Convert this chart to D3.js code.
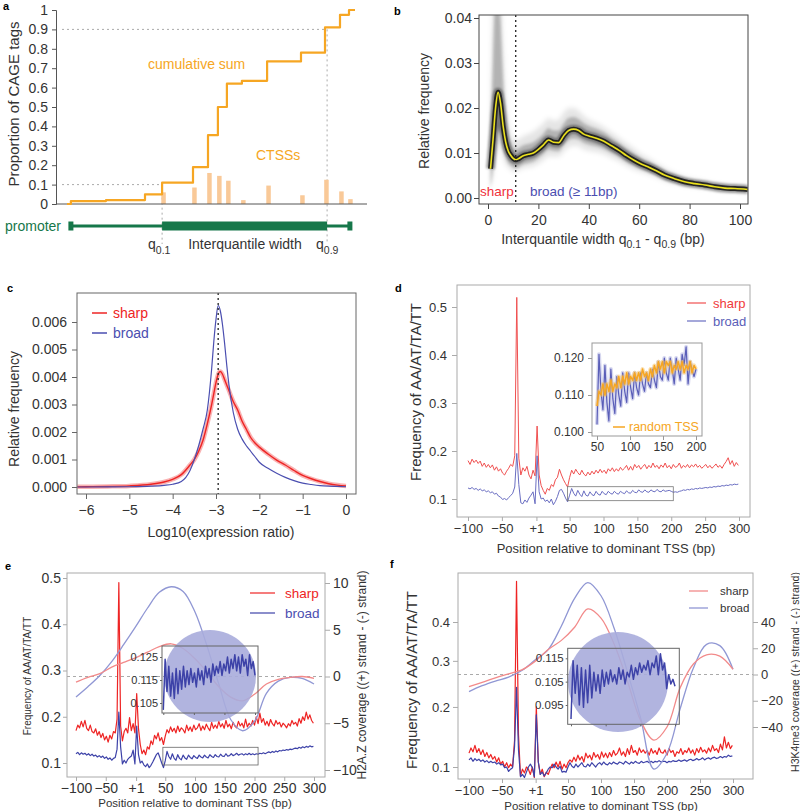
<!DOCTYPE html>
<html><head><meta charset="utf-8">
<script src="https://cdn.jsdelivr.net/npm/d3@7"></script>
<style>
body{margin:0;background:#fff;}
text{font-family:"Liberation Sans",Arial,Helvetica,sans-serif;}
</style></head><body>
<svg id="fig" width="800" height="811" xmlns="http://www.w3.org/2000/svg"></svg>
<script>
// ================= DATA =================
// Panel a
const aStepPos = [5, 6.3, 18, 31, 36.7, 47, 52, 55.3, 58.3, 63.3, 71.7, 83, 91, 96, 99, 101];
const aCumSum  = [0, 0.015, 0.02, 0.05, 0.11, 0.19, 0.355, 0.50, 0.62, 0.635, 0.735, 0.78, 0.91, 0.975, 1.0, 1.0];
const aCtssPos = [36.7, 47, 52, 55.3, 58.3, 63.3, 71.7, 83, 91, 96, 99];
const aCtssVal = [0.06, 0.085, 0.16, 0.145, 0.12, 0.02, 0.095, 0.045, 0.125, 0.065, 0.025];
const aYTicks  = [0,0.1,0.2,0.3,0.4,0.5,0.6,0.7,0.8,0.9,1];
const aYLabels = ["0","0.1","0.2","0.3","0.4","0.5","0.6","0.7","0.8","0.9","1"];
const aPromStart = 6.3, aPromEnd = 99.3, aQ01 = 36.7, aQ09 = 91.7;

// Panel b
const bWidth = [1,2,3,4,5,6,7,8,9,10,11,12,14,16,18,20,22,24,26,28,30,32,34,36,38,40,43,46,49,52,55,58,61,64,67,70,74,78,82,86,90,94,98,103];
const bMean  = [0.0065,0.013,0.020,0.0235,0.021,0.016,0.0125,0.0105,0.0095,0.0088,0.0085,0.0087,0.0094,0.0097,0.0100,0.0108,0.0118,0.0129,0.0124,0.0123,0.0138,0.0150,0.0153,0.0150,0.0142,0.0138,0.0133,0.0126,0.0116,0.0106,0.0094,0.0084,0.0075,0.0068,0.0060,0.0051,0.0043,0.0036,0.0032,0.0029,0.0025,0.0022,0.0021,0.0019];
const bLow   = [0.002,0.006,0.011,0.015,0.014,0.011,0.009,0.0078,0.0072,0.0068,0.0066,0.0068,0.0075,0.0078,0.0081,0.0089,0.0098,0.0108,0.0105,0.0104,0.0118,0.0129,0.0132,0.0130,0.0123,0.0119,0.0115,0.0109,0.0100,0.0091,0.0080,0.0071,0.0064,0.0058,0.0051,0.0043,0.0036,0.0030,0.0027,0.0024,0.0021,0.0018,0.0017,0.0015];
const bHigh  = [0.012,0.032,0.046,0.046,0.040,0.027,0.018,0.0140,0.0122,0.0112,0.0108,0.0110,0.0117,0.0120,0.0124,0.0132,0.0143,0.0155,0.0150,0.0150,0.0165,0.0178,0.0180,0.0175,0.0166,0.0160,0.0154,0.0146,0.0134,0.0123,0.0110,0.0099,0.0088,0.0080,0.0071,0.0060,0.0051,0.0043,0.0038,0.0034,0.0029,0.0026,0.0025,0.0023];
const bOuterLow  = [0.002,0.005,0.009,0.012,0.011,0.009,0.0075,0.0068,0.0063,0.0059,0.0058,0.0060,0.0066,0.0068,0.0070,0.0076,0.0084,0.0093,0.0092,0.0092,0.0103,0.0113,0.0116,0.0115,0.0108,0.0105,0.0102,0.0097,0.0089,0.0081,0.0071,0.0063,0.0057,0.0051,0.0045,0.0038,0.0032,0.0027,0.0024,0.0022,0.0019,0.0016,0.0015,0.0013];
const bOuterHigh = [0.013,0.045,0.046,0.046,0.046,0.034,0.022,0.017,0.0145,0.0133,0.0128,0.0130,0.0138,0.0142,0.0148,0.0156,0.0166,0.0178,0.0172,0.0174,0.0190,0.0200,0.0200,0.0194,0.0183,0.0175,0.0167,0.0158,0.0146,0.0134,0.0122,0.0110,0.0097,0.0088,0.0078,0.0067,0.0056,0.0047,0.0042,0.0037,0.0032,0.0029,0.0027,0.0025];
const bXTicks = [0,20,40,60,80,100];
const bXLabels = ["0","20","40","60","80","100"];
const bYTicks = [0,0.01,0.02,0.03,0.04];
const bYLabels = ["0.00","0.01","0.02","0.03","0.04"];
const bCutoff = 11;

// Panel c
const cLogRatio = [-6.2,-6,-5.5,-5,-4.5,-4.2,-4,-3.8,-3.6,-3.5,-3.4,-3.3,-3.2,-3.1,-3.05,-3,-2.95,-2.9,-2.85,-2.8,-2.75,-2.7,-2.6,-2.5,-2.4,-2.3,-2.2,-2.1,-2,-1.8,-1.6,-1.4,-1.2,-1,-0.8,-0.6,-0.4,-0.2,0];
const cBroad = [0,0,0.000005,0.00001,0.00003,0.00006,0.0001,0.0002,0.0006,0.001,0.0015,0.0021,0.0028,0.0043,0.0053,0.0061,0.0066,0.0064,0.0059,0.0052,0.0044,0.0037,0.0027,0.0021,0.00175,0.0015,0.0013,0.0011,0.0009,0.00068,0.0005,0.00035,0.00023,0.00014,0.00009,0.00005,0.00003,0.00002,0.00001];
const cSharp = [0.000005,0.00001,0.00002,0.00004,0.0001,0.00018,0.00028,0.00045,0.0008,0.001,0.0013,0.0017,0.0023,0.003,0.0034,0.0038,0.0041,0.0042,0.0041,0.0039,0.0037,0.0035,0.0031,0.0028,0.0024,0.0021,0.0018,0.0016,0.00145,0.0012,0.00098,0.0008,0.0006,0.00042,0.0003,0.0002,0.00012,0.00007,0.00004];
const cXTicks = [-6,-5,-4,-3,-2,-1,0];
const cXLabels = ["\u22126","\u22125","\u22124","\u22123","\u22122","\u22121","0"];
const cYTicks = [0,0.001,0.002,0.003,0.004,0.005,0.006];
const cYLabels = ["0.000","0.001","0.002","0.003","0.004","0.005","0.006"];
const cMode = -2.95;

// Panels d/e/f: positions -100, -97, ... 299 (3 bp grid); insets 50, 53, ... 200
const posStart = -100, posStep = 3;
const insStart = 50, insStep = 3;
const posTicks = [-100,-50,1,50,100,150,200,250,300];
const posLabels = ["\u2212100","\u221250","+1","50","100","150","200","250","300"];

const dSharp = [
.180,.172,.183,.176,.181,.174,.179,.168,.175,.166,
.172,.165,.171,.160,.167,.158,.163,.154,.150,.158,
.164,.172,.168,.190,.520,.185,.150,.165,.158,.168,
.150,.142,.160,.148,.252,.150,.128,.118,.110,.122,
.118,.130,.126,.140,.145,.162,.150,.140,.132,.125,
.145,.160,.152,.162,.155,.150,.160,.152,.148,.156,
.150,.158,.152,.160,.154,.162,.155,.160,.153,.163,
.158,.165,.157,.163,.158,.166,.160,.164,.170,.160,
.168,.160,.172,.165,.170,.162,.168,.172,.163,.170,
.165,.175,.166,.170,.163,.171,.166,.175,.165,.170,
.163,.172,.166,.168,.175,.164,.170,.166,.172,.165,
.171,.167,.173,.166,.170,.164,.168,.172,.165,.170,
.164,.168,.173,.166,.170,.164,.172,.178,.186,.172,
.180,.168,.176,.170];
const dBroad = [
.123,.121,.124,.120,.122,.118,.121,.117,.119,.115,
.117,.113,.115,.110,.112,.106,.104,.099,.101,.098,
.103,.107,.112,.125,.195,.130,.092,.090,.098,.093,
.102,.108,.115,.090,.190,.115,.100,.102,.095,.098,
.092,.100,.088,.095,.105,.118,.120,.112,.102,.094,
.108,.122,.112,.106,.118,.110,.105,.117,.108,.106,
.115,.109,.107,.116,.110,.108,.116,.111,.109,.116,
.112,.110,.116,.112,.110,.116,.113,.111,.117,.113,
.112,.118,.114,.113,.119,.115,.114,.119,.115,.114,
.119,.116,.115,.120,.116,.115,.119,.116,.117,.118,
.116,.114,.115,.114,.116,.117,.119,.118,.120,.119,
.121,.120,.122,.121,.123,.122,.123,.124,.123,.125,
.124,.126,.125,.127,.126,.128,.127,.129,.128,.130,
.129,.131,.130,.131];
const dInsetBroad = [
.102,.121,.111,.106,.118,.108,.103,.117,.109,.105,
.115,.110,.107,.116,.111,.108,.116,.112,.109,.116,
.112,.110,.116,.113,.111,.116,.113,.112,.117,.114,
.112,.119,.115,.114,.120,.116,.114,.120,.117,.113,
.120,.117,.114,.121,.118,.123,.113,.119,.117,.115,
.117];
const dInsetRandom = [
.107,.111,.110,.113,.110,.113,.111,.114,.111,.113,
.112,.115,.112,.115,.113,.116,.113,.115,.114,.116,
.114,.116,.114,.117,.115,.116,.114,.117,.115,.118,
.116,.119,.117,.119,.116,.119,.118,.119,.116,.118,
.117,.119,.117,.119,.116,.118,.117,.119,.116,.118,
.117];
const dYTicks = [0.1,0.2,0.3,0.4,0.5];
const dYLabels = ["0.1","0.2","0.3","0.4","0.5"];
const dInYTicks = [0.100,0.110,0.120];
const dInYLabels = ["0.100","0.110","0.120"];
const inXTicks = [50,100,150,200];
const inXLabels = ["50","100","150","200"];

const eSharp = [
.170,.182,.176,.190,.178,.192,.175,.170,.182,.168,
.165,.174,.160,.168,.155,.164,.150,.158,.145,.160,
.152,.168,.165,.195,.490,.180,.148,.168,.175,.165,
.198,.170,.185,.165,.250,.175,.140,.120,.128,.118,
.135,.130,.148,.140,.160,.152,.165,.148,.155,.140,
.158,.172,.165,.178,.168,.175,.165,.180,.168,.176,
.172,.165,.182,.170,.178,.168,.182,.172,.176,.185,
.170,.180,.172,.184,.176,.170,.188,.175,.182,.175,
.190,.178,.185,.175,.192,.178,.184,.174,.188,.180,
.176,.190,.180,.186,.176,.195,.178,.186,.180,.192,
.182,.200,.185,.208,.188,.196,.182,.190,.180,.194,
.185,.180,.192,.184,.188,.178,.186,.182,.176,.185,
.180,.192,.184,.188,.180,.196,.186,.200,.192,.210,
.195,.204,.192,.186];
const eBroad = [
.120,.123,.118,.122,.119,.121,.117,.120,.116,.119,
.115,.117,.113,.116,.112,.115,.110,.113,.108,.111,
.106,.110,.112,.130,.210,.135,.098,.106,.100,.108,
.112,.115,.128,.098,.180,.118,.100,.104,.096,.092,
.098,.090,.095,.102,.110,.118,.122,.112,.100,.090,
.105,.125,.114,.108,.120,.110,.106,.118,.110,.107,
.117,.111,.108,.117,.112,.109,.116,.112,.110,.117,
.113,.111,.117,.113,.111,.118,.114,.112,.118,.114,
.113,.119,.115,.114,.120,.115,.116,.120,.116,.118,
.121,.117,.119,.120,.117,.120,.118,.121,.118,.120,
.118,.120,.119,.121,.120,.122,.120,.122,.124,.122,
.125,.123,.126,.124,.127,.126,.128,.127,.129,.128,
.130,.129,.131,.132,.131,.134,.132,.135,.133,.136,
.134,.137,.135,.136];
const eInsetBroad = [
.102,.124,.110,.121,.108,.118,.107,.120,.109,.119,
.111,.121,.112,.119,.113,.120,.114,.118,.112,.120,
.115,.119,.113,.121,.116,.120,.114,.122,.117,.121,
.118,.123,.117,.122,.119,.125,.118,.124,.120,.126,
.119,.125,.118,.126,.121,.124,.117,.126,.120,.123,
.117];
const smoothPos = [-100,-80,-60,-40,-20,0,20,40,60,80,100,120,140,160,180,200,220,240,260,280,300];
const eH2AZBroad = [-2.2,-1.1,0.1,1.6,3.4,5.3,7.3,9.0,9.6,9.1,6.9,3.3,-0.8,-4.6,-5.8,-4.8,-1.8,-0.5,-0.1,-0.2,-0.8];
const eH2AZSharp = [-0.6,-0.1,0.3,1.0,1.5,2.0,2.6,3.2,3.5,3.0,1.9,0.5,-1.1,-2.2,-2.6,-1.9,-0.8,-0.3,-0.1,0.0,-0.2];
const eYTicks = [0.1,0.2,0.3,0.4,0.5];
const eYLabels = ["0.1","0.2","0.3","0.4","0.5"];
const eRTicks = [-10,-5,0,5,10];
const eRLabels = ["\u221210","\u22125","0","5","10"];
const eInYTicks = [0.105,0.115,0.125];
const eInYLabels = ["0.105","0.115","0.125"];

const fSharp = [
.120,.128,.122,.132,.121,.127,.118,.125,.115,.121,
.113,.118,.111,.115,.107,.113,.104,.108,.100,.106,
.099,.104,.100,.140,.520,.150,.088,.097,.092,.100,
.097,.090,.100,.086,.200,.107,.090,.097,.087,.093,
.090,.097,.104,.099,.107,.100,.108,.097,.104,.099,
.106,.110,.107,.114,.108,.117,.110,.115,.107,.120,
.113,.117,.110,.121,.114,.118,.111,.122,.114,.120,
.113,.121,.115,.124,.117,.120,.128,.117,.122,.115,
.127,.118,.132,.121,.124,.117,.128,.121,.125,.120,
.124,.117,.127,.120,.124,.118,.128,.121,.120,.125,
.117,.127,.121,.124,.115,.122,.120,.127,.118,.124,
.121,.128,.120,.125,.117,.127,.121,.129,.122,.125,
.120,.128,.122,.132,.124,.127,.121,.134,.125,.146,
.128,.137,.127,.132];
const fBroad = [
.110,.113,.108,.112,.109,.111,.108,.110,.107,.109,
.106,.108,.106,.107,.104,.106,.103,.104,.099,.100,
.094,.097,.099,.130,.240,.125,.087,.090,.086,.093,
.100,.104,.099,.087,.185,.107,.090,.093,.088,.092,
.097,.100,.099,.104,.100,.097,.101,.093,.094,.093,
.100,.106,.101,.099,.104,.100,.103,.106,.101,.100,
.104,.101,.106,.103,.100,.104,.106,.103,.107,.104,
.103,.106,.104,.107,.105,.104,.107,.106,.104,.108,
.106,.104,.107,.105,.108,.106,.105,.108,.106,.107,
.108,.106,.108,.106,.108,.107,.109,.107,.108,.108,
.106,.108,.107,.109,.108,.108,.110,.108,.109,.110,
.108,.110,.111,.109,.110,.112,.110,.111,.113,.110,
.112,.113,.111,.113,.114,.112,.113,.115,.113,.115,
.114,.117,.115,.116];
const fInsetBroad = [
.089,.114,.100,.112,.095,.111,.094,.110,.096,.112,
.098,.109,.101,.108,.100,.110,.103,.109,.104,.110,
.105,.108,.104,.111,.106,.110,.104,.109,.107,.112,
.106,.111,.108,.113,.109,.112,.110,.114,.108,.113,
.111,.116,.108,.117,.110,.113,.102,.108,.104,.106,
.103];
const fH3K4Broad = [-13,-8.5,-5,-2,3,11,19,37,58,70,60,35,2,-33,-72,-60,-26,5,23,22,4];
const fH3K4Sharp = [-9.3,-6,-2.5,0.5,3.5,10,19,26,36,50,43,23,-5,-35,-50,-40,-10,8,15,14,4];
const fYTicks = [0.1,0.2,0.3,0.4];
const fYLabels = ["0.1","0.2","0.3","0.4"];
const fRTicks = [-40,-20,0,20,40];
const fRLabels = ["\u221240","\u221220","0","20","40"];
const fInYTicks = [0.095,0.105,0.115];
const fInYLabels = ["0.095","0.105","0.115"];

// ================= DRAWING =================
const svg = d3.select("#fig");
const FONT = '"Liberation Sans", Arial, Helvetica, sans-serif';
const TXT = "#333";
const RED = "#ee2424", BLUE = "#3d42a8";
const ORANGE = "#f6a623", BAR = "#f9c998", GREEN = "#16774a";
const defs = svg.append("defs");
defs.append("filter").attr("id", "blur2").attr("x", "-10%").attr("y", "-10%").attr("width", "120%").attr("height", "120%")
  .append("feGaussianBlur").attr("stdDeviation", 1.8);
defs.append("filter").attr("id", "blur3").attr("x", "-10%").attr("y", "-10%").attr("width", "120%").attr("height", "120%")
  .append("feGaussianBlur").attr("stdDeviation", 2.5);
defs.append("filter").attr("id", "blur1").append("feGaussianBlur").attr("stdDeviation", 0.8);

function txt(g, x, y, s, o = {}) {
  const t = g.append("text").attr("x", x).attr("y", y).text(s)
    .attr("font-size", o.fs || 14).attr("fill", o.fill || TXT)
    .attr("text-anchor", o.anchor || "start").attr("font-family", FONT);
  if (o.rot) t.attr("transform", `rotate(${o.rot},${x},${y})`);
  if (o.bold) t.attr("font-weight", "bold");
  return t;
}
function vtitle(g, cx, cy, s, fs) { return txt(g, cx + fs * 0.36, cy, s, {fs, anchor: "middle", rot: -90}); }
function axis(g, gen, scale, tv, labels, tr, o = {}) {
  const a = gen(scale).tickValues(tv).tickFormat((d, i) => labels[i])
    .tickSizeOuter(0).tickSize(o.ts ?? 5).tickPadding(o.tp ?? 3);
  const s = g.append("g").attr("transform", tr).call(a);
  if (!o.domain) s.select(".domain").remove(); else s.select(".domain").attr("stroke", o.col || "#555");
  s.selectAll(".tick line").attr("stroke", o.col || "#555");
  s.selectAll(".tick text").attr("font-size", o.fs || 13).attr("fill", TXT).attr("font-family", FONT);
  return s;
}
function box(g, x0, y0, x1, y1, col, w = 1) {
  g.append("rect").attr("x", x0).attr("y", y0).attr("width", x1 - x0).attr("height", y1 - y0)
    .attr("fill", "none").attr("stroke", col).attr("stroke-width", w);
}
function clip(id, x0, y0, x1, y1) {
  defs.append("clipPath").attr("id", id).append("rect").attr("x", x0).attr("y", y0).attr("width", x1 - x0).attr("height", y1 - y0);
  return `url(#${id})`;
}
const gridPts = (vals, start, step) => vals.map((v, i) => [start + step * i, v]);
function drawLine(g, pts, sx, sy, col, w, o = {}) {
  const p = g.append("path").datum(pts)
    .attr("d", d3.line().x(d => sx(d[0])).y(d => sy(d[1])).curve(o.curve || d3.curveLinear))
    .attr("fill", "none").attr("stroke", col).attr("stroke-width", w).attr("stroke-linejoin", "round");
  if (o.op != null) p.attr("stroke-opacity", o.op);
  if (o.filter) p.attr("filter", o.filter);
  return p;
}

// ---------- Panel a ----------
(function () {
  const g = svg.append("g");
  const x = d3.scaleLinear().domain([0, 105]).range([52, 367]);
  const y = d3.scaleLinear().domain([0, 1]).range([204, 10]);
  txt(g, 3, 10, "a", {fs: 11, bold: true, fill: "#000"});
  const dash = (x1, y1, x2, y2) => g.append("line").attr("x1", x1).attr("y1", y1).attr("x2", x2).attr("y2", y2)
    .attr("stroke", "#aaa").attr("stroke-dasharray", "2,3").attr("stroke-width", 1);
  dash(62, y(0.9), x(aQ09), y(0.9));
  dash(62, y(0.1), x(aQ01), y(0.1));
  dash(x(aQ01), y(0.11), x(aQ01), 244);
  dash(x(aQ09), y(0.9), x(aQ09), 244);
  g.selectAll("rect.ctss").data(aCtssPos).enter().append("rect")
    .attr("x", d => x(d) - 0.8).attr("width", 4.5)
    .attr("y", (d, i) => y(aCtssVal[i])).attr("height", (d, i) => y(0) - y(aCtssVal[i]))
    .attr("fill", BAR);
  axis(g, d3.axisLeft, y, aYTicks, aYLabels, "translate(56,0)", {ts: 4, tp: 4, fs: 14, domain: true, col: "#555"});
  g.append("line").attr("x1", 56).attr("x2", 367).attr("y1", 204).attr("y2", 204).attr("stroke", "#555");
  drawLine(g, aStepPos.map((p, i) => [p, aCumSum[i]]), x, y, ORANGE, 2.2, {curve: d3.curveStepAfter});
  const py = 226;
  g.append("line").attr("x1", x(aPromStart)).attr("x2", x(aPromEnd)).attr("y1", py).attr("y2", py)
    .attr("stroke", GREEN).attr("stroke-width", 3);
  g.append("rect").attr("x", x(aQ01)).attr("width", x(aQ09) - x(aQ01)).attr("y", py - 4.5).attr("height", 9).attr("fill", GREEN);
  [aPromStart, aPromEnd].forEach(p => g.append("rect").attr("x", x(p) - 2.5).attr("width", 5).attr("y", py - 4.5).attr("height", 9).attr("fill", GREEN));
  txt(g, 5, 231, "promoter", {fs: 14, fill: GREEN});
  txt(g, 245, 249, "Interquantile width", {fs: 14, anchor: "middle"});
  const q1 = txt(g, 148, 249, "q", {fs: 14});
  q1.append("tspan").text("0.1").attr("font-size", 10.5).attr("dy", 5);
  const q9 = txt(g, 316, 249, "q", {fs: 14});
  q9.append("tspan").text("0.9").attr("font-size", 10.5).attr("dy", 5);
  txt(g, 148, 69, "cumulative sum", {fs: 14, fill: ORANGE});
  txt(g, 256, 160, "CTSSs", {fs: 14, fill: ORANGE});
  vtitle(g, 14, 104, "Proportion of CAGE tags", 15);
})();

// ---------- Panel b ----------
(function () {
  const g = svg.append("g");
  const x = d3.scaleLinear().domain([0, 100]).range([488, 740]);
  const y = d3.scaleLinear().domain([0, 0.04]).range([198, 18]);
  const X0 = 479, X1 = 748, Y0 = 15, Y1 = 204;
  txt(g, 394, 15, "b", {fs: 11, bold: true, fill: "#000"});
  const inner = g.append("g").attr("clip-path", clip("clipb", X0, Y0, X1, Y1));
  const pts = bWidth.map((w, i) => [w, bMean[i]]);
  const band = d3.area().x(d => x(d[0])).y0(d => y(d[1])).y1(d => y(d[2])).curve(d3.curveMonotoneX);
  inner.append("path").datum(bWidth.map((w, i) => [w, bOuterLow[i], bOuterHigh[i]]))
    .attr("d", band).attr("fill", "#000").attr("fill-opacity", 0.1).attr("filter", "url(#blur3)");
  inner.append("path").datum(bWidth.map((w, i) => [w, bLow[i], bHigh[i]]))
    .attr("d", band).attr("fill", "#000").attr("fill-opacity", 0.22).attr("filter", "url(#blur2)");
  drawLine(inner, pts, x, y, "#000", 9, {op: 0.35, curve: d3.curveMonotoneX, filter: "url(#blur1)"});
  drawLine(inner, pts, x, y, "#151515", 5, {op: 0.85, curve: d3.curveMonotoneX});
  drawLine(inner, pts, x, y, "#ece21c", 1.6, {curve: d3.curveMonotoneX});
  g.append("line").attr("x1", x(bCutoff)).attr("x2", x(bCutoff)).attr("y1", Y0).attr("y2", Y1)
    .attr("stroke", "#222").attr("stroke-width", 1.3).attr("stroke-dasharray", "2,3");
  box(g, X0, Y0, X1, Y1, "#444");
  axis(g, d3.axisLeft, y, bYTicks, bYLabels, `translate(${X0},0)`, {ts: 5, tp: 2, fs: 14, col: "#444"});
  axis(g, d3.axisBottom, x, bXTicks, bXLabels, `translate(0,${Y1})`, {ts: 5, tp: 6, fs: 14, col: "#444"});
  txt(g, 480, 196, "sharp", {fs: 13.5, fill: "#f0303a"});
  txt(g, 530, 196, "broad (\u2265 11bp)", {fs: 13.5, fill: "#4a4eb0"});
  const t = txt(g, 603, 244, "Interquantile width q", {fs: 14, anchor: "middle"});
  t.append("tspan").text("0.1").attr("font-size", 10.5).attr("dy", 4);
  t.append("tspan").text(" - q").attr("dy", -4);
  t.append("tspan").text("0.9").attr("font-size", 10.5).attr("dy", 4);
  t.append("tspan").text(" (bp)").attr("dy", -4);
  vtitle(g, 424, 111, "Relative frequency", 14);
})();

// ---------- Panel c ----------
(function () {
  const g = svg.append("g");
  const x = d3.scaleLinear().domain([-6, 0]).range([86, 346]);
  const y = d3.scaleLinear().domain([0, 0.006]).range([487, 322]);
  const X0 = 77, X1 = 356, Y0 = 293, Y1 = 494;
  txt(g, 7, 292, "c", {fs: 11, bold: true, fill: "#000"});
  const inner = g.append("g").attr("clip-path", clip("clipc", X0, Y0, X1, Y1));
  drawLine(inner, cLogRatio.map((v, i) => [v, cSharp[i]]), x, y, RED, 4.5, {op: 0.35, curve: d3.curveMonotoneX});
  drawLine(inner, cLogRatio.map((v, i) => [v, cSharp[i]]), x, y, RED, 1.4, {curve: d3.curveMonotoneX});
  drawLine(inner, cLogRatio.map((v, i) => [v, cBroad[i]]), x, y, "#4a4eb0", 1.2, {curve: d3.curveMonotoneX});
  g.append("line").attr("x1", x(cMode)).attr("x2", x(cMode)).attr("y1", Y0).attr("y2", Y1)
    .attr("stroke", "#222").attr("stroke-width", 1.3).attr("stroke-dasharray", "2,3");
  box(g, X0, Y0, X1, Y1, "#666");
  axis(g, d3.axisLeft, y, cYTicks, cYLabels, `translate(${X0},0)`, {ts: 5, tp: 5, fs: 14, col: "#666"});
  axis(g, d3.axisBottom, x, cXTicks, cXLabels, `translate(0,${Y1})`, {ts: 5, tp: 6, fs: 14, col: "#666"});
  g.append("line").attr("x1", 92).attr("x2", 107).attr("y1", 313).attr("y2", 313).attr("stroke", RED).attr("stroke-width", 1.5);
  g.append("line").attr("x1", 92).attr("x2", 107).attr("y1", 333).attr("y2", 333).attr("stroke", "#4a4eb0").attr("stroke-width", 1.5);
  txt(g, 113, 318, "sharp", {fs: 14, fill: RED});
  txt(g, 113, 338, "broad", {fs: 14, fill: "#4a4eb0"});
  txt(g, 221, 537, "Log10(expression ratio)", {fs: 14, anchor: "middle"});
  vtitle(g, 14, 409, "Relative frequency", 14);
})();

// ---------- Panel d ----------
(function () {
  const g = svg.append("g");
  const x = d3.scaleLinear().domain([-100, 300]).range([468, 739]);
  const y = d3.scaleLinear().domain([0.1, 0.5]).range([499, 307]);
  const X0 = 457, X1 = 750, Y0 = 285, Y1 = 517;
  txt(g, 395, 292, "d", {fs: 11, bold: true, fill: "#000"});
  const inner = g.append("g").attr("clip-path", clip("clipd", X0, Y0, X1, Y1));
  drawLine(inner, gridPts(dSharp, posStart, posStep), x, y, "#f05050", 1);
  drawLine(inner, gridPts(dBroad, posStart, posStep), x, y, "#6a6ec2", 1);
  g.append("rect").attr("x", x(47)).attr("width", x(203) - x(47)).attr("y", y(0.1256)).attr("height", y(0.0965) - y(0.1256))
    .attr("fill", "none").attr("stroke", "#777").attr("stroke-width", 0.8);
  box(g, X0, Y0, X1, Y1, "#aaa");
  axis(g, d3.axisLeft, y, dYTicks, dYLabels, `translate(${X0},0)`, {ts: 5, tp: 5, fs: 13, col: "#aaa"});
  axis(g, d3.axisBottom, x, posTicks, posLabels, `translate(0,${Y1})`, {ts: 4, tp: 3, fs: 13, col: "#aaa"});
  g.append("line").attr("x1", 687).attr("x2", 706).attr("y1", 303).attr("y2", 303).attr("stroke", "#f05050").attr("stroke-width", 1.2);
  g.append("line").attr("x1", 687).attr("x2", 706).attr("y1", 321).attr("y2", 321).attr("stroke", "#6a6ec2").attr("stroke-width", 1.2);
  txt(g, 713, 307.5, "sharp", {fs: 13, fill: "#f03a3a"});
  txt(g, 713, 325.5, "broad", {fs: 13, fill: "#5a5eb8"});
  const ix = d3.scaleLinear().domain([50, 200]).range([597, 696]);
  const iy = d3.scaleLinear().domain([0.1, 0.12]).range([432, 358]);
  const IX0 = 592, IX1 = 702, IY0 = 343, IY1 = 436;
  g.append("rect").attr("x", IX0).attr("y", IY0).attr("width", IX1 - IX0).attr("height", IY1 - IY0).attr("fill", "#fff");
  const ig = g.append("g").attr("clip-path", clip("clipdi", IX0, IY0, IX1, IY1));
  drawLine(ig, gridPts(dInsetBroad, insStart, insStep), ix, iy, "#8a8dd0", 4, {op: 0.35});
  drawLine(ig, gridPts(dInsetBroad, insStart, insStep), ix, iy, "#5a5eb8", 1.2);
  drawLine(ig, gridPts(dInsetRandom, insStart, insStep), ix, iy, "#f8c060", 4, {op: 0.5});
  drawLine(ig, gridPts(dInsetRandom, insStart, insStep), ix, iy, ORANGE, 1.5);
  box(g, IX0, IY0, IX1, IY1, "#999");
  axis(g, d3.axisLeft, iy, dInYTicks, dInYLabels, `translate(${IX0},0)`, {ts: 4, tp: 4, fs: 12, col: "#999"});
  axis(g, d3.axisBottom, ix, inXTicks, inXLabels, `translate(0,${IY1})`, {ts: 4, tp: 2, fs: 12, col: "#999"});
  g.append("line").attr("x1", 613).attr("x2", 625).attr("y1", 427).attr("y2", 427).attr("stroke", ORANGE).attr("stroke-width", 1.5);
  txt(g, 629, 431, "random TSS", {fs: 12.5, fill: ORANGE});
  txt(g, 606, 553, "Position relative to dominant TSS (bp)", {fs: 13, anchor: "middle"});
  vtitle(g, 416, 392, "Frequency of AA/AT/TA/TT", 15);
})();

// ---------- Panel e ----------
(function () {
  const g = svg.append("g");
  const x = d3.scaleLinear().domain([-100, 300]).range([76, 314]);
  const y = d3.scaleLinear().domain([0.1, 0.5]).range([763, 578]);
  const yr = d3.scaleLinear().domain([-10, 10]).range([770, 583]);
  const X0 = 67, X1 = 325, Y0 = 573, Y1 = 777;
  txt(g, 5, 570, "e", {fs: 11, bold: true, fill: "#000"});
  g.append("line").attr("x1", X0).attr("x2", X1).attr("y1", yr(0)).attr("y2", yr(0)).attr("stroke", "#aaa").attr("stroke-dasharray", "3,3");
  const inner = g.append("g").attr("clip-path", clip("clipe", X0, Y0, X1, Y1));
  drawLine(inner, gridPts(eSharp, posStart, posStep), x, y, RED, 1.2);
  drawLine(inner, gridPts(eBroad, posStart, posStep), x, y, BLUE, 1.2);
  g.append("rect").attr("x", x(46)).attr("width", x(206) - x(46)).attr("y", y(0.134)).attr("height", y(0.0957) - y(0.134))
    .attr("fill", "none").attr("stroke", "#666").attr("stroke-width", 0.8);
  g.append("circle").attr("cx", 210).attr("cy", 676).attr("r", 46).attr("fill", "#a8acdc").attr("fill-opacity", 0.9);
  drawLine(inner, smoothPos.map((p, i) => [p, eH2AZBroad[i]]), x, yr, "#9097d4", 1.3, {curve: d3.curveCatmullRom});
  drawLine(inner, smoothPos.map((p, i) => [p, eH2AZSharp[i]]), x, yr, "#f28a8a", 1.3, {curve: d3.curveCatmullRom});
  box(g, X0, Y0, X1, Y1, "#aaa");
  axis(g, d3.axisLeft, y, eYTicks, eYLabels, `translate(${X0},0)`, {ts: 4, tp: 2, fs: 14, col: "#aaa"});
  axis(g, d3.axisRight, yr, eRTicks, eRLabels, `translate(${X1},0)`, {ts: 5, tp: 3, fs: 14, col: "#aaa"});
  axis(g, d3.axisBottom, x, posTicks, posLabels, `translate(0,${Y1})`, {ts: 4, tp: 2, fs: 14, col: "#aaa"});
  const ix = d3.scaleLinear().domain([50, 200]).range([163.3, 255]);
  const iy = d3.scaleLinear().domain([0.105, 0.125]).range([703, 657]);
  const IX0 = 162, IX1 = 258, IY0 = 646, IY1 = 713;
  const ig = g.append("g").attr("clip-path", clip("clipei", IX0, IY0, IX1, IY1));
  drawLine(ig, gridPts(eInsetBroad, insStart, insStep), ix, iy, BLUE, 1.5);
  box(g, IX0, IY0, IX1, IY1, "#666");
  axis(g, d3.axisLeft, iy, eInYTicks, eInYLabels, `translate(${IX0},0)`, {ts: 2, tp: 2, fs: 11, col: "#666"});
  axis(g, d3.axisBottom, ix, inXTicks, ["", "", "", ""], `translate(0,${IY1})`, {ts: 2, tp: 2, fs: 11, col: "#666"});
  g.append("line").attr("x1", 250).attr("x2", 275).attr("y1", 593).attr("y2", 593).attr("stroke", RED).attr("stroke-width", 1.2);
  g.append("line").attr("x1", 250).attr("x2", 275).attr("y1", 613).attr("y2", 613).attr("stroke", BLUE).attr("stroke-width", 1.2);
  txt(g, 285, 598, "sharp", {fs: 13.5, fill: RED});
  txt(g, 285, 618, "broad", {fs: 13.5, fill: "#4a4eb0"});
  txt(g, 195, 807, "Position relative to dominant TSS (bp)", {fs: 11.5, anchor: "middle"});
  vtitle(g, 27, 676, "Frequency of AA/AT/TA/TT", 10);
  vtitle(g, 362, 675, "H2A.Z coverage ((+) strand - (-) strand)", 12);
})();

// ---------- Panel f ----------
(function () {
  const g = svg.append("g");
  const x = d3.scaleLinear().domain([-100, 300]).range([469, 733]);
  const y = d3.scaleSqrt().domain([0.1, 0.4]).range([767, 622]);
  const yr = d3.scaleLinear().domain([-40, 40]).range([727, 622]);
  const X0 = 458, X1 = 753, Y0 = 573, Y1 = 779;
  txt(g, 390, 568, "f", {fs: 11, bold: true, fill: "#000"});
  g.append("line").attr("x1", X0).attr("x2", X1).attr("y1", yr(0)).attr("y2", yr(0)).attr("stroke", "#aaa").attr("stroke-dasharray", "3,3");
  const inner = g.append("g").attr("clip-path", clip("clipf", X0, Y0, X1, Y1));
  drawLine(inner, gridPts(fSharp, posStart, posStep), x, y, RED, 1.2);
  drawLine(inner, gridPts(fBroad, posStart, posStep), x, y, BLUE, 1.2);
  g.append("circle").attr("cx", 618).attr("cy", 682).attr("r", 50).attr("fill", "#a8acdc").attr("fill-opacity", 0.9);
  drawLine(inner, smoothPos.map((p, i) => [p, fH3K4Broad[i]]), x, yr, "#9097d4", 1.3, {curve: d3.curveCatmullRom});
  drawLine(inner, smoothPos.map((p, i) => [p, fH3K4Sharp[i]]), x, yr, "#f28a8a", 1.3, {curve: d3.curveCatmullRom});
  box(g, X0, Y0, X1, Y1, "#aaa");
  axis(g, d3.axisLeft, y, fYTicks, fYLabels, `translate(${X0},0)`, {ts: 5, tp: 3, fs: 13, col: "#aaa"});
  axis(g, d3.axisRight, yr, fRTicks, fRLabels, `translate(${X1},0)`, {ts: 5, tp: 3, fs: 13, col: "#aaa"});
  axis(g, d3.axisBottom, x, posTicks, posLabels, `translate(0,${Y1})`, {ts: 4, tp: 3, fs: 13, col: "#aaa"});
  const ix = d3.scaleLinear().domain([50, 200]).range([571, 675]);
  const iy = d3.scaleLinear().domain([0.095, 0.115]).range([705, 658.3]);
  const IX0 = 567.7, IX1 = 679.3, IY0 = 648.3, IY1 = 724.3;
  const ig = g.append("g").attr("clip-path", clip("clipfi", IX0, IY0, IX1, IY1));
  drawLine(ig, gridPts(fInsetBroad, insStart, insStep), ix, iy, BLUE, 1.5);
  box(g, IX0, IY0, IX1, IY1, "#666");
  axis(g, d3.axisLeft, iy, fInYTicks, fInYLabels, `translate(${IX0},0)`, {ts: 2, tp: 2, fs: 11.5, col: "#666"});
  axis(g, d3.axisBottom, ix, inXTicks, ["", "", "", ""], `translate(0,${IY1})`, {ts: 2, tp: 2, fs: 11, col: "#666"});
  g.append("line").attr("x1", 689).attr("x2", 708).attr("y1", 591).attr("y2", 591).attr("stroke", "#f28a8a").attr("stroke-width", 1.3);
  g.append("line").attr("x1", 689).attr("x2", 708).attr("y1", 608).attr("y2", 608).attr("stroke", "#9097d4").attr("stroke-width", 1.3);
  txt(g, 720, 595, "sharp", {fs: 11.5});
  txt(g, 720, 612, "broad", {fs: 11.5});
  txt(g, 601, 810, "Position relative to dominant TSS (bp)", {fs: 11.5, anchor: "middle"});
  vtitle(g, 412, 680, "Frequency of AA/AT/TA/TT", 15);
  vtitle(g, 795, 672, "H3K4me3 coverage ((+) strand - (-) strand)", 10.5);
})();
</script>
</body></html>
